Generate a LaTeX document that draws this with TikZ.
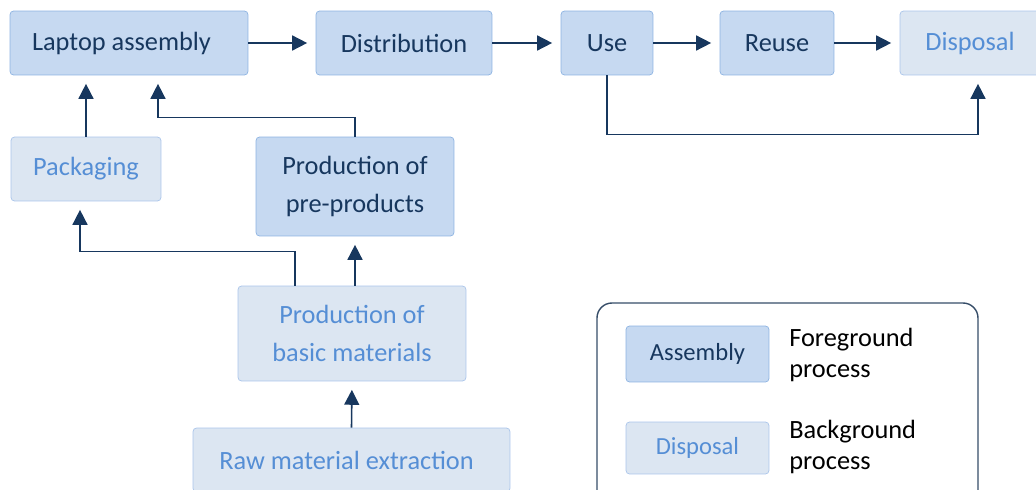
\documentclass[tikz,border=0pt]{standalone}
\usepackage{fontspec}
\setmainfont{Carlito}
\usepackage{tikz}
\usetikzlibrary{arrows.meta}

\definecolor{navy}{HTML}{17375E}
\definecolor{fgfill}{HTML}{C6D9F1}
\definecolor{fgline}{HTML}{8DB3E2}
\definecolor{bgfill}{HTML}{DCE6F2}
\definecolor{bgline}{HTML}{A9C4EA}
\definecolor{bgtext}{HTML}{558ED5}

\begin{document}
\begin{tikzpicture}[x=0.02cm, y=-0.02cm,
    every node/.style={font=\fontsize{15}{21.5}\selectfont},
    fg/.style={draw=fgline, fill=fgfill, text=navy, rounded corners=2pt, align=center, minimum height=1.28cm},
    bg/.style={draw=bgline, fill=bgfill, text=bgtext, rounded corners=2pt, align=center, minimum height=1.28cm},
    flow/.style={draw=navy, line width=0.9pt, -{Triangle[length=8.5pt,width=8.5pt]}, shorten >=0.17cm}]
    \useasboundingbox (0,0) rectangle (1036,490);

    % main chain
    \node[fg, minimum width=4.76cm] (lap)   at (129,43)   {\hspace*{-0.3cm}Laptop assembly};
    \node[fg, minimum width=3.52cm] (dist)  at (404,43)   {Distribution};
    \node[fg, minimum width=1.84cm] (use)   at (607,43)   {Use};
    \node[fg, minimum width=2.28cm] (reuse) at (777,43)   {Reuse};
    \node[bg, minimum width=2.8cm]  (disp)  at (970,43)   {Disposal};

    % supply side
    \node[bg, minimum width=3cm]    (pack)  at (86,169)   {Packaging};
    \node[fg, minimum width=3.96cm, minimum height=1.98cm] (pre)   at (355,186.5) {Production of\\pre-products};
    \node[bg, minimum width=4.56cm, minimum height=1.9cm]  (basic) at (352,333.5) {Production of\\basic materials};
    \node[bg, minimum width=6.34cm] (raw)   at (351.5,460) {\hspace*{-0.2cm}Raw material extraction};

    \draw[flow] (lap)   -- (dist);
    \draw[flow] (dist)  -- (use);
    \draw[flow] (use)   -- (reuse);
    \draw[flow] (reuse) -- (disp);
    \draw[flow] (use.south) -- ++(0,59) -| ([xshift=0.16cm]disp.south);

    \draw[flow] (pack.north) -- (pack.north |- lap.south);
    \draw[flow] (pre.north) -- ++(0,-19) -| ([xshift=0.58cm]lap.south);
    \draw[flow] ([xshift=-1.14cm]basic.north) -- ++(0,-34) -| ([xshift=-0.12cm]pack.south);
    \draw[flow] (pre.south |- basic.north) -- (pre.south);
    \draw[flow] (raw.north) -- (basic.south);

    % legend
    \draw[draw=navy!70!gray, line width=0.8pt, rounded corners=0.3cm] (597,303) rectangle (978,530);
    \node[fg, minimum width=2.86cm, minimum height=1.12cm, font=\fontsize{14}{18}\selectfont] (legfg) at (697.5,354) {Assembly};
    \node[bg, minimum width=2.86cm, minimum height=1.04cm, font=\fontsize{14}{18}\selectfont] (legbg) at (697.5,448) {Disposal};
    \node[anchor=west, align=left, inner sep=0pt, font=\fontsize{15}{18}\selectfont] (fgtxt) at (789,355) {Foreground\\process};
    \node[anchor=west, align=left, inner sep=0pt, font=\fontsize{15}{18}\selectfont] (bgtxt) at (789,447) {Background\\process};

  \end{tikzpicture}
\end{document}
